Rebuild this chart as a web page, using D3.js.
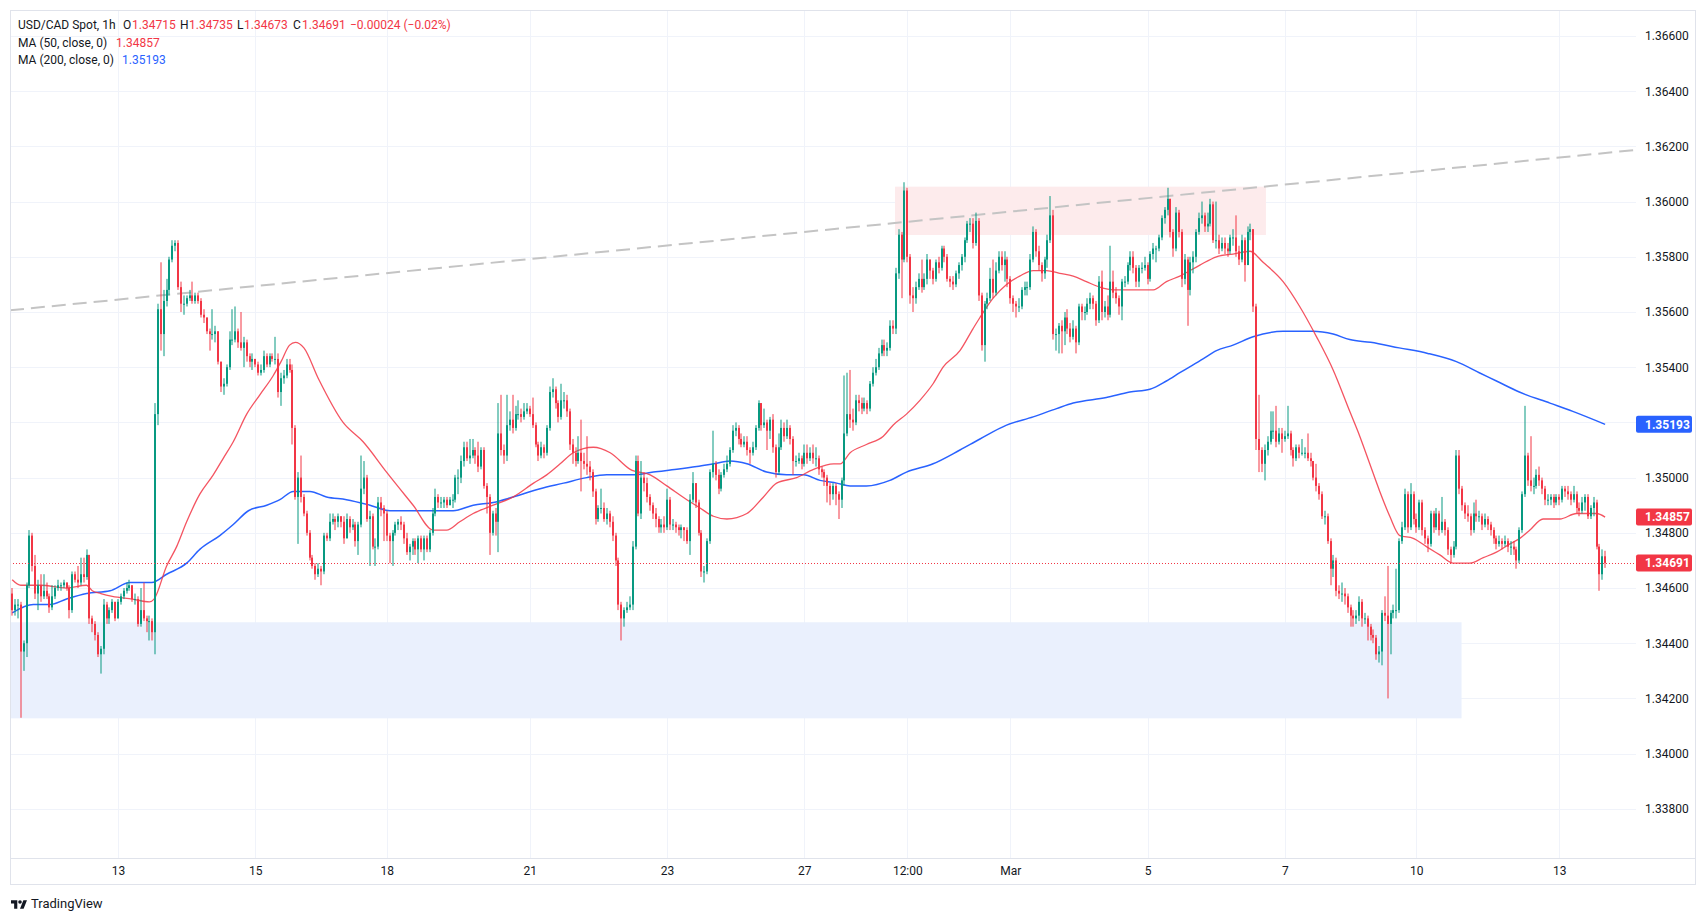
<!DOCTYPE html>
<html>
<head>
<meta charset="utf-8">
<script src="https://cdn.jsdelivr.net/npm/d3@7"></script>
<style>
  body { margin: 0; background: #fff; }
  svg text { font-family: Roboto, "Liberation Sans", sans-serif; }
</style>
</head>
<body>
<svg id="chart" width="1706" height="921"></svg>
<script>
// USD/CAD 1h candles (bar index 0 = Feb 12 ~11:00)
var firstOpen = 1.3458;
var closes = [
1.3452,1.3454,1.3454,1.3437,1.3440,1.3461,1.3479,1.3468,1.3458,1.3461,
1.3457,1.3459,1.3457,1.3453,1.3457,1.3460,1.3461,1.3461,1.3462,1.3460,
1.3452,1.3465,1.3463,1.3462,1.3465,1.3464,1.3472,1.3449,1.3447,1.3443,
1.3436,1.3438,1.3454,1.3449,1.3452,1.3455,1.3449,1.3455,1.3457,1.3459,
1.3460,1.3461,1.3456,1.3456,1.3447,1.3452,1.3449,1.3448,1.3448,1.3444,
1.3523,1.3561,1.3552,1.3564,1.3568,1.3579,1.3584,1.3585,1.3569,1.3563,
1.3563,1.3565,1.3566,1.3564,1.3566,1.3564,1.3559,1.3558,1.3553,1.3552,
1.3552,1.3553,1.3542,1.3533,1.3534,1.3540,1.3550,1.3550,1.3553,1.3549,
1.3547,1.3549,1.3544,1.3542,1.3543,1.3541,1.3538,1.3539,1.3544,1.3541,
1.3544,1.3543,1.3543,1.3531,1.3536,1.3537,1.3541,1.3539,1.3518,1.3493,
1.3500,1.3493,1.3487,1.3480,1.3471,1.3468,1.3465,1.3467,1.3466,1.3479,
1.3478,1.3484,1.3485,1.3484,1.3486,1.3484,1.3478,1.3485,1.3482,1.3483,
1.3477,1.3483,1.3496,1.3500,1.3485,1.3486,1.3475,1.3475,1.3491,1.3489,
1.3487,1.3479,1.3477,1.3480,1.3483,1.3484,1.3483,1.3478,1.3473,1.3475,
1.3477,1.3474,1.3478,1.3474,1.3478,1.3474,1.3480,1.3487,1.3493,1.3491,
1.3491,1.3492,1.3490,1.3492,1.3492,1.3500,1.3500,1.3506,1.3511,1.3507,
1.3508,1.3510,1.3508,1.3504,1.3510,1.3497,1.3493,1.3480,1.3487,1.3484,
1.3516,1.3510,1.3508,1.3519,1.3521,1.3518,1.3523,1.3523,1.3522,1.3524,
1.3525,1.3523,1.3519,1.3512,1.3508,1.3511,1.3509,1.3518,1.3531,1.3532,
1.3527,1.3522,1.3528,1.3528,1.3524,1.3512,1.3509,1.3506,1.3509,1.3506,
1.3505,1.3504,1.3502,1.3495,1.3485,1.3489,1.3489,1.3485,1.3487,1.3484,
1.3479,1.3470,1.3454,1.3449,1.3452,1.3453,1.3454,1.3475,1.3506,1.3487,
1.3500,1.3498,1.3493,1.3490,1.3487,1.3485,1.3482,1.3483,1.3482,1.3492,
1.3483,1.3483,1.3482,1.3481,1.3482,1.3481,1.3477,1.3492,1.3498,1.3491,
1.3480,1.3466,1.3466,1.3477,1.3502,1.3505,1.3501,1.3496,1.3501,1.3503,
1.3505,1.3510,1.3517,1.3518,1.3514,1.3512,1.3513,1.3510,1.3509,1.3511,
1.3518,1.3527,1.3519,1.3520,1.3517,1.3521,1.3511,1.3502,1.3511,1.3518,
1.3515,1.3518,1.3514,1.3506,1.3506,1.3507,1.3505,1.3509,1.3507,1.3509,
1.3507,1.3507,1.3503,1.3502,1.3500,1.3497,1.3494,1.3497,1.3494,1.3492,
1.3499,1.3516,1.3523,1.3521,1.3520,1.3528,1.3527,1.3525,1.3527,1.3525,
1.3534,1.3538,1.3540,1.3545,1.3548,1.3546,1.3547,1.3555,1.3554,1.3574,
1.3588,1.3579,1.3604,1.3580,1.3566,1.3565,1.3569,1.3572,1.3569,1.3572,
1.3579,1.3575,1.3572,1.3578,1.3576,1.3583,1.3580,1.3572,1.3571,1.3570,
1.3574,1.3577,1.3580,1.3586,1.3592,1.3592,1.3585,1.3593,1.3566,1.3548,
1.3563,1.3565,1.3572,1.3567,1.3575,1.3580,1.3577,1.3579,1.3572,1.3565,
1.3563,1.3562,1.3562,1.3568,1.3569,1.3569,1.3579,1.3589,1.3582,1.3577,
1.3574,1.3579,1.3586,1.3595,1.3552,1.3552,1.3555,1.3553,1.3558,1.3554,
1.3551,1.3554,1.3549,1.3562,1.3560,1.3560,1.3563,1.3565,1.3563,1.3557,
1.3571,1.3560,1.3562,1.3559,1.3571,1.3567,1.3565,1.3562,1.3571,1.3571,
1.3577,1.3580,1.3576,1.3571,1.3576,1.3576,1.3577,1.3572,1.3581,1.3583,
1.3583,1.3587,1.3594,1.3597,1.3601,1.3589,1.3583,1.3596,1.3589,1.3572,
1.3579,1.3568,1.3578,1.3580,1.3589,1.3594,1.3595,1.3591,1.3592,1.3599,
1.3586,1.3586,1.3583,1.3585,1.3583,1.3582,1.3587,1.3587,1.3582,1.3579,
1.3586,1.3577,1.3589,1.3590,1.3562,1.3514,1.3510,1.3505,1.3510,1.3513,
1.3517,1.3517,1.3513,1.3516,1.3514,1.3515,1.3516,1.3510,1.3507,1.3511,
1.3509,1.3509,1.3509,1.3507,1.3506,1.3500,1.3497,1.3494,1.3486,1.3486,
1.3477,1.3467,1.3470,1.3459,1.3458,1.3458,1.3457,1.3453,1.3450,1.3449,
1.3450,1.3455,1.3449,1.3449,1.3446,1.3443,1.3442,1.3436,1.3437,1.3451,
1.3450,1.3447,1.3451,1.3452,1.3452,1.3477,1.3482,1.3494,1.3482,1.3494,
1.3485,1.3482,1.3491,1.3481,1.3478,1.3476,1.3487,1.3482,1.3487,1.3481,
1.3484,1.3481,1.3474,1.3472,1.3475,1.3508,1.3496,1.3490,1.3487,1.3486,
1.3481,1.3487,1.3486,1.3486,1.3483,1.3485,1.3483,1.3481,1.3478,1.3476,
1.3477,1.3476,1.3477,1.3475,1.3475,1.3474,1.3470,1.3481,1.3494,1.3508,
1.3499,1.3497,1.3497,1.3501,1.3499,1.3496,1.3492,1.3492,1.3493,1.3491,
1.3493,1.3492,1.3496,1.3495,1.3494,1.3492,1.3494,1.3489,1.3488,1.3491,
1.3493,1.3486,1.3489,1.3491,1.3475,1.3465,1.34715,1.34691
];
var highs = [
1.3460,1.3456,1.3456,1.3455,1.3441,1.3462,1.3481,1.3480,1.3472,1.3463,
1.3465,1.3465,1.3462,1.3458,1.3461,1.3461,1.3463,1.3462,1.3463,1.3462,
1.3461,1.3466,1.3466,1.3468,1.3471,1.3471,1.3474,1.3472,1.3450,1.3448,
1.3444,1.3439,1.3456,1.3455,1.3453,1.3456,1.3455,1.3456,1.3458,1.3460,
1.3462,1.3463,1.3461,1.3458,1.3457,1.3460,1.3462,1.3450,1.3450,1.3449,
1.3527,1.3563,1.3578,1.3568,1.3572,1.3580,1.3586,1.3586,1.3586,1.3571,
1.3566,1.3566,1.3568,1.3571,1.3567,1.3567,1.3565,1.3561,1.3558,1.3554,
1.3561,1.3555,1.3553,1.3542,1.3536,1.3541,1.3553,1.3561,1.3562,1.3554,
1.3560,1.3551,1.3550,1.3545,1.3545,1.3543,1.3542,1.3541,1.3546,1.3545,
1.3545,1.3545,1.3551,1.3545,1.3538,1.3539,1.3543,1.3543,1.3541,1.3519,
1.3502,1.3508,1.3494,1.3488,1.3481,1.3472,1.3469,1.3469,1.3468,1.3480,
1.3480,1.3487,1.3487,1.3486,1.3487,1.3486,1.3486,1.3487,1.3486,1.3485,
1.3484,1.3484,1.3508,1.3506,1.3501,1.3488,1.3487,1.3478,1.3493,1.3493,
1.3490,1.3488,1.3480,1.3481,1.3484,1.3485,1.3486,1.3484,1.3480,1.3476,
1.3478,1.3478,1.3479,1.3479,1.3479,1.3479,1.3481,1.3489,1.3496,1.3494,
1.3493,1.3493,1.3493,1.3493,1.3494,1.3501,1.3503,1.3508,1.3513,1.3513,
1.3514,1.3514,1.3511,1.3513,1.3511,1.3511,1.3498,1.3494,1.3488,1.3489,
1.3527,1.3530,1.3512,1.3530,1.3524,1.3530,1.3526,1.3528,1.3525,1.3527,
1.3527,1.3526,1.3529,1.3520,1.3513,1.3513,1.3512,1.3519,1.3533,1.3536,
1.3533,1.3528,1.3534,1.3531,1.3530,1.3525,1.3514,1.3511,1.3515,1.3521,
1.3509,1.3515,1.3506,1.3503,1.3496,1.3490,1.3496,1.3491,1.3489,1.3488,
1.3486,1.3480,1.3471,1.3455,1.3453,1.3455,1.3457,1.3477,1.3508,1.3508,
1.3506,1.3502,1.3500,1.3494,1.3491,1.3489,1.3486,1.3485,1.3486,1.3496,
1.3493,1.3485,1.3484,1.3483,1.3483,1.3482,1.3482,1.3494,1.3502,1.3498,
1.3492,1.3481,1.3468,1.3478,1.3503,1.3517,1.3506,1.3503,1.3502,1.3505,
1.3508,1.3511,1.3519,1.3520,1.3519,1.3516,1.3515,1.3515,1.3511,1.3513,
1.3519,1.3528,1.3527,1.3525,1.3521,1.3522,1.3523,1.3512,1.3516,1.3521,
1.3520,1.3521,1.3519,1.3515,1.3508,1.3509,1.3508,1.3512,1.3512,1.3511,
1.3512,1.3511,1.3508,1.3504,1.3503,1.3501,1.3498,1.3498,1.3498,1.3495,
1.3500,1.3537,1.3538,1.3539,1.3525,1.3530,1.3530,1.3529,1.3529,1.3528,
1.3535,1.3540,1.3543,1.3547,1.3550,1.3550,1.3549,1.3557,1.3557,1.3576,
1.3590,1.3589,1.3607,1.3605,1.3581,1.3569,1.3571,1.3574,1.3579,1.3574,
1.3581,1.3579,1.3576,1.3579,1.3580,1.3584,1.3584,1.3581,1.3573,1.3573,
1.3575,1.3578,1.3581,1.3587,1.3593,1.3594,1.3594,1.3596,1.3594,1.3567,
1.3564,1.3567,1.3576,1.3579,1.3578,1.3582,1.3582,1.3582,1.3580,1.3573,
1.3566,1.3564,1.3565,1.3569,1.3571,1.3571,1.3581,1.3591,1.3590,1.3584,
1.3578,1.3580,1.3588,1.3602,1.3597,1.3554,1.3556,1.3557,1.3560,1.3561,
1.3556,1.3557,1.3555,1.3563,1.3563,1.3562,1.3565,1.3567,1.3566,1.3564,
1.3573,1.3575,1.3564,1.3566,1.3584,1.3575,1.3569,1.3566,1.3572,1.3573,
1.3578,1.3582,1.3582,1.3577,1.3577,1.3578,1.3580,1.3578,1.3582,1.3585,
1.3584,1.3588,1.3595,1.3598,1.3605,1.3601,1.3590,1.3598,1.3597,1.3590,
1.3581,1.3580,1.3580,1.3582,1.3590,1.3596,1.3600,1.3596,1.3596,1.3601,
1.3600,1.3600,1.3588,1.3587,1.3587,1.3585,1.3588,1.3590,1.3595,1.3584,
1.3588,1.3587,1.3591,1.3592,1.3590,1.3563,1.3530,1.3511,1.3512,1.3515,
1.3524,1.3524,1.3526,1.3518,1.3518,1.3517,1.3526,1.3517,1.3511,1.3512,
1.3512,1.3514,1.3511,1.3516,1.3509,1.3506,1.3505,1.3498,1.3495,1.3488,
1.3487,1.3478,1.3472,1.3471,1.3461,1.3462,1.3460,1.3458,1.3454,1.3452,
1.3452,1.3457,1.3456,1.3451,1.3450,1.3447,1.3445,1.3443,1.3439,1.3452,
1.3457,1.3468,1.3452,1.3454,1.3467,1.3478,1.3484,1.3496,1.3495,1.3498,
1.3495,1.3487,1.3492,1.3492,1.3482,1.3479,1.3488,1.3488,1.3489,1.3488,
1.3493,1.3485,1.3482,1.3475,1.3477,1.3510,1.3510,1.3497,1.3491,1.3490,
1.3487,1.3491,1.3492,1.3488,1.3487,1.3487,1.3486,1.3484,1.3482,1.3479,
1.3479,1.3478,1.3479,1.3478,1.3477,1.3477,1.3475,1.3482,1.3495,1.3526,
1.3509,1.3515,1.3500,1.3503,1.3504,1.3500,1.3497,1.3494,1.3494,1.3494,
1.3494,1.3494,1.3497,1.3497,1.3497,1.3495,1.3497,1.3495,1.3491,1.3493,
1.3494,1.3494,1.3490,1.3493,1.3492,1.3476,1.3474,1.34735
];
var lows = [
1.3450,1.3450,1.3449,1.3413,1.3430,1.3435,1.3460,1.3466,1.3456,1.3452,
1.3455,1.3456,1.3456,1.3451,1.3452,1.3456,1.3459,1.3459,1.3460,1.3459,
1.3449,1.3451,1.3462,1.3460,1.3461,1.3462,1.3463,1.3447,1.3444,1.3441,
1.3435,1.3429,1.3436,1.3447,1.3447,1.3451,1.3448,1.3449,1.3454,1.3456,
1.3458,1.3459,1.3455,1.3454,1.3446,1.3446,1.3448,1.3444,1.3441,1.3441,
1.3436,1.3519,1.3546,1.3544,1.3562,1.3566,1.3578,1.3582,1.3568,1.3560,
1.3559,1.3562,1.3564,1.3563,1.3563,1.3563,1.3558,1.3556,1.3552,1.3546,
1.3550,1.3549,1.3541,1.3531,1.3530,1.3533,1.3539,1.3548,1.3549,1.3547,
1.3546,1.3540,1.3542,1.3540,1.3539,1.3540,1.3537,1.3537,1.3538,1.3540,
1.3540,1.3542,1.3541,1.3529,1.3526,1.3534,1.3536,1.3538,1.3512,1.3492,
1.3476,1.3491,1.3486,1.3479,1.3470,1.3467,1.3463,1.3464,1.3461,1.3465,
1.3477,1.3477,1.3483,1.3481,1.3482,1.3482,1.3476,1.3478,1.3480,1.3481,
1.3475,1.3472,1.3482,1.3494,1.3484,1.3468,1.3474,1.3468,1.3474,1.3486,
1.3477,1.3477,1.3469,1.3468,1.3479,1.3481,1.3481,1.3476,1.3472,1.3470,
1.3472,1.3472,1.3469,1.3473,1.3470,1.3473,1.3473,1.3479,1.3486,1.3489,
1.3489,1.3489,1.3489,1.3490,1.3489,1.3491,1.3494,1.3498,1.3504,1.3506,
1.3505,1.3507,1.3505,1.3502,1.3503,1.3496,1.3487,1.3472,1.3479,1.3479,
1.3473,1.3508,1.3505,1.3506,1.3517,1.3516,1.3517,1.3521,1.3520,1.3521,
1.3523,1.3522,1.3518,1.3511,1.3506,1.3507,1.3507,1.3508,1.3517,1.3529,
1.3525,1.3520,1.3521,1.3525,1.3522,1.3510,1.3505,1.3504,1.3505,1.3495,
1.3503,1.3501,1.3499,1.3493,1.3483,1.3484,1.3487,1.3484,1.3483,1.3482,
1.3477,1.3468,1.3452,1.3441,1.3446,1.3451,1.3452,1.3452,1.3474,1.3486,
1.3485,1.3495,1.3491,1.3488,1.3485,1.3482,1.3480,1.3480,1.3480,1.3481,
1.3481,1.3481,1.3480,1.3479,1.3478,1.3477,1.3476,1.3472,1.3491,1.3489,
1.3479,1.3464,1.3462,1.3465,1.3476,1.3500,1.3499,1.3494,1.3495,1.3500,
1.3502,1.3504,1.3509,1.3515,1.3512,1.3511,1.3511,1.3508,1.3505,1.3508,
1.3510,1.3517,1.3517,1.3518,1.3510,1.3514,1.3509,1.3500,1.3501,1.3510,
1.3513,1.3514,1.3512,1.3501,1.3504,1.3505,1.3503,1.3504,1.3505,1.3506,
1.3505,1.3504,1.3501,1.3500,1.3497,1.3491,1.3490,1.3492,1.3490,1.3485,
1.3489,1.3497,1.3515,1.3518,1.3517,1.3519,1.3524,1.3523,1.3524,1.3523,
1.3524,1.3533,1.3537,1.3539,1.3544,1.3544,1.3544,1.3546,1.3552,1.3552,
1.3572,1.3565,1.3578,1.3578,1.3563,1.3560,1.3563,1.3568,1.3567,1.3568,
1.3570,1.3572,1.3570,1.3571,1.3574,1.3575,1.3578,1.3571,1.3569,1.3568,
1.3569,1.3572,1.3575,1.3578,1.3585,1.3589,1.3583,1.3584,1.3564,1.3546,
1.3542,1.3561,1.3564,1.3565,1.3566,1.3574,1.3575,1.3571,1.3569,1.3563,
1.3560,1.3558,1.3560,1.3561,1.3566,1.3566,1.3568,1.3578,1.3580,1.3575,
1.3571,1.3572,1.3576,1.3585,1.3550,1.3546,1.3545,1.3545,1.3548,1.3552,
1.3549,1.3550,1.3545,1.3548,1.3557,1.3557,1.3559,1.3561,1.3561,1.3555,
1.3556,1.3557,1.3558,1.3557,1.3558,1.3565,1.3563,1.3559,1.3557,1.3569,
1.3570,1.3575,1.3574,1.3569,1.3569,1.3574,1.3575,1.3570,1.3571,1.3579,
1.3578,1.3582,1.3586,1.3592,1.3595,1.3587,1.3580,1.3582,1.3587,1.3569,
1.3570,1.3555,1.3566,1.3574,1.3578,1.3588,1.3592,1.3589,1.3589,1.3591,
1.3585,1.3583,1.3581,1.3582,1.3581,1.3580,1.3581,1.3584,1.3580,1.3577,
1.3578,1.3571,1.3577,1.3586,1.3560,1.3510,1.3502,1.3502,1.3499,1.3508,
1.3512,1.3514,1.3511,1.3512,1.3509,1.3513,1.3514,1.3508,1.3504,1.3506,
1.3507,1.3508,1.3507,1.3506,1.3504,1.3499,1.3495,1.3492,1.3485,1.3483,
1.3476,1.3461,1.3464,1.3457,1.3456,1.3455,1.3454,1.3451,1.3446,1.3446,
1.3447,1.3448,1.3446,1.3447,1.3441,1.3441,1.3440,1.3434,1.3433,1.3432,
1.3448,1.3420,1.3436,1.3449,1.3449,1.3451,1.3476,1.3481,1.3480,1.3481,
1.3483,1.3480,1.3481,1.3479,1.3476,1.3473,1.3475,1.3480,1.3481,1.3479,
1.3480,1.3479,1.3472,1.3469,1.3471,1.3474,1.3494,1.3488,1.3485,1.3484,
1.3479,1.3480,1.3484,1.3484,1.3481,1.3482,1.3481,1.3479,1.3476,1.3474,
1.3475,1.3474,1.3475,1.3473,1.3472,1.3472,1.3467,1.3469,1.3480,1.3493,
1.3497,1.3495,1.3494,1.3496,1.3497,1.3494,1.3490,1.3490,1.3490,1.3489,
1.3490,1.3490,1.3491,1.3493,1.3492,1.3490,1.3491,1.3487,1.3486,1.3487,
1.3488,1.3485,1.3485,1.3486,1.3474,1.3459,1.3463,1.34673
];

// moving averages: [bar, value]
var ma50 = [
[0,1.3463],[3,1.3461],[10,1.3461],[19,1.3460],[26,1.3461],[28,1.3459],[31,1.3458],[35,1.3457],
[42,1.3456],[48,1.3455],[49.6,1.3456],[54,1.3468],[57.5,1.3475],[61,1.3484],[65.6,1.3494],
[70.3,1.3501],[73.8,1.3507],[77.3,1.3513],[82,1.3523],[86.6,1.3530],[91.3,1.3537],[94,1.3542],
[97,1.3548],[99,1.3549],[102,1.3547],[107,1.3536],[115.7,1.3520],[122.7,1.3513],[130.9,1.3502],
[140.2,1.3490],[147.2,1.3481],[151.9,1.3481],[156.5,1.3484],[161.2,1.3487],[168.2,1.3490],
[175.2,1.3493],[182.3,1.3498],[186.9,1.3501],[191.6,1.3505],[196.2,1.3509],[203.2,1.3511],
[209.1,1.3509],[216.1,1.3503],[223.1,1.3501],[228.9,1.3497],[235.9,1.3492],[240.5,1.3489],
[245.2,1.3486],[249.9,1.3485],[256.9,1.3487],[262.7,1.3493],[267.3,1.3498],[274.3,1.3500],
[280.2,1.3503],[287.2,1.3505],[289.5,1.3505],[293,1.3509],[298.7,1.3512],[304.6,1.3515],
[308,1.3519],[312.7,1.3523],[317.4,1.3528],[322,1.3534],[325.5,1.3540],[331.4,1.3546],
[336,1.3554],[338.4,1.3558],[343,1.3565],[347.7,1.3570],[352.3,1.3573],[357,1.3575],
[361.7,1.3575],[366.3,1.3574],[371,1.3573],[375.6,1.3571],[380.3,1.3569],[385,1.3568],
[394.3,1.3568],[399,1.3568],[403.6,1.3571],[408.3,1.3573],[415.3,1.3577],[421.1,1.3580],
[426.9,1.3581],[432.8,1.3582],[437.4,1.3578],[444.4,1.3571],[450.2,1.3562],[456.1,1.3551],
[461.9,1.3539],[467.7,1.3524],[471.2,1.3515],[474.7,1.3505],[478.2,1.3495],[481.7,1.3486],
[485.2,1.3479],[489.9,1.3478],[494.5,1.3475],[499.2,1.3472],[503.9,1.3469],[509.7,1.3469],
[514.4,1.3471],[519,1.3473],[523.7,1.3476],[527.2,1.3478],[530.7,1.3481],[535.3,1.3485],
[541.2,1.3485],[547,1.3487],[554,1.3487],[557,1.34857]
];
var ma200 = [
[0,1.3451],[7.4,1.3454],[13.2,1.3454],[19,1.3456],[26,1.3458],[34.2,1.3459],[41.2,1.3462],
[48.8,1.3462],[54,1.3465],[61,1.3469],[65.6,1.3474],[72.6,1.3479],[77.3,1.3483],[82.6,1.3488],
[89,1.3490],[93.6,1.3492],[98.3,1.3495],[104.1,1.3495],[109.9,1.3493],[116.9,1.3492],
[125.1,1.3490],[132.1,1.3488],[141.4,1.3488],[154.2,1.3488],[161.2,1.3490],[168.2,1.3491],
[175.2,1.3493],[184.6,1.3496],[192.8,1.3498],[200.9,1.3500],[207.9,1.3501],[217.2,1.3501],
[224.2,1.3502],[232.4,1.3503],[239.4,1.3504],[245.2,1.3505],[251,1.3506],[256.9,1.3505],
[263.8,1.3502],[270.8,1.3501],[276.7,1.3501],[282.5,1.3499],[288.3,1.3498],[293,1.3497],
[298.7,1.3497],[306.9,1.3499],[312.7,1.3502],[322,1.3505],[331.4,1.3510],[338.4,1.3514],
[347.7,1.3519],[357,1.3522],[365.2,1.3525],[371,1.3527],[382.6,1.3529],[390.8,1.3531],
[397.8,1.3532],[403.6,1.3535],[408.3,1.3538],[416.4,1.3543],[421.1,1.3546],[426.9,1.3548],
[433.9,1.3551],[444.4,1.3553],[454.9,1.3553],[461.9,1.3552],[467.7,1.3550],[475,1.3549],
[485,1.3547],[495,1.3545],[505,1.3542],[513,1.3538],[519,1.3535],[527,1.3531],[537.7,1.3527],
[545.7,1.3524],[557,1.35193]
];

// drawings
var resistanceZone = { from: 308.7, to: 438.4, top: 1.36054, bottom: 1.35879 };
var supportZone = { from: -2, to: 506.8, top: 1.34476, bottom: 1.34128 };
var trendBars = [0, 557];
var trendPrices = [1.35607, 1.36176];

// axes
var priceTicks = [1.338, 1.340, 1.342, 1.344, 1.346, 1.348, 1.350, 1.352, 1.354, 1.356, 1.358, 1.360, 1.362, 1.364, 1.366];
var timeTickBars = [37, 85, 131, 181, 229, 277, 313, 349, 397, 445, 491, 541];
var timeTickLabels = ["13", "15", "18", "21", "23", "27", "12:00", "Mar", "5", "7", "10", "13"];

var GREEN = "#089981", RED = "#F23645", BLUE = "#2962FF", TEXT = "#131722";
var GRID = "#f0f3fa", BORDER = "#e0e3eb";

var svg = d3.select("#chart");
var plot = { left: 10, right: 1636, top: 10, bottom: 858 };

var x = d3.scaleLinear().domain([-0.77, 567.8]).range([plot.left, plot.right]);
var y = d3.scaleLinear().domain([1.33622, 1.36694]).range([plot.bottom, plot.top]);

svg.append("defs").append("clipPath").attr("id", "plotclip")
  .append("rect")
  .attr("x", plot.left).attr("y", plot.top)
  .attr("width", plot.right - plot.left).attr("height", plot.bottom - plot.top);

// grid
var grid = svg.append("g");
grid.selectAll("line.h").data(priceTicks).enter().append("line")
  .attr("x1", plot.left).attr("x2", plot.right)
  .attr("y1", function(d) { return Math.round(y(d)) + 0.5; })
  .attr("y2", function(d) { return Math.round(y(d)) + 0.5; })
  .attr("stroke", GRID);
grid.selectAll("line.v").data(timeTickBars).enter().append("line")
  .attr("y1", plot.top).attr("y2", plot.bottom)
  .attr("x1", function(d) { return Math.round(x(d)) + 0.5; })
  .attr("x2", function(d) { return Math.round(x(d)) + 0.5; })
  .attr("stroke", GRID);

var g = svg.append("g").attr("clip-path", "url(#plotclip)");

// zones
function zone(z, fill) {
  g.append("rect")
    .attr("x", x(z.from)).attr("width", x(z.to) - x(z.from))
    .attr("y", y(z.top)).attr("height", y(z.bottom) - y(z.top))
    .attr("fill", fill);
}
zone(supportZone, "#eaf0fd");
zone(resistanceZone, "#fdebec");

// trend line, extended across the pane
var slope = (trendPrices[1] - trendPrices[0]) / (trendBars[1] - trendBars[0]);
var d0 = x.domain()[0], d1 = x.domain()[1];
g.append("line")
  .attr("x1", x(d0)).attr("y1", y(trendPrices[0] + (d0 - trendBars[0]) * slope))
  .attr("x2", x(d1)).attr("y2", y(trendPrices[0] + (d1 - trendBars[0]) * slope))
  .attr("stroke", "#c4c4c4").attr("stroke-width", 2).attr("stroke-dasharray", "14,7");

// moving averages
var line = d3.line().x(function(d) { return x(d[0]); }).y(function(d) { return y(d[1]); }).curve(d3.curveMonotoneX);
g.append("path").datum(ma200).attr("d", line).attr("fill", "none").attr("stroke", BLUE).attr("stroke-width", 1.5);
g.append("path").datum(ma50).attr("d", line).attr("fill", "none").attr("stroke", RED).attr("stroke-opacity", 0.85).attr("stroke-width", 1.3);

// candles
var bars = closes.map(function(c, i) {
  return { i: i, o: i ? closes[i - 1] : firstOpen, h: highs[i], l: lows[i], c: c };
});
var candle = g.append("g").selectAll("g").data(bars).enter().append("g");
candle.append("line")
  .attr("x1", function(d) { return Math.round(x(d.i)); })
  .attr("x2", function(d) { return Math.round(x(d.i)); })
  .attr("y1", function(d) { return y(Math.max(d.h, d.o, d.c)); })
  .attr("y2", function(d) { return y(Math.min(d.l, d.o, d.c)); })
  .attr("stroke", function(d) { return d.c >= d.o ? GREEN : RED; })
  .attr("stroke-width", 1);
candle.append("rect")
  .attr("x", function(d) { return Math.round(x(d.i)) - 1; })
  .attr("width", 2)
  .attr("y", function(d) { return y(Math.max(d.o, d.c)); })
  .attr("height", function(d) { return Math.max(1, Math.abs(y(d.o) - y(d.c))); })
  .attr("fill", function(d) { return d.c >= d.o ? GREEN : RED; });

// last price dotted line
var last = bars[bars.length - 1];
g.append("line")
  .attr("x1", plot.left).attr("x2", plot.right)
  .attr("y1", Math.round(y(last.c)) + 0.5).attr("y2", Math.round(y(last.c)) + 0.5)
  .attr("stroke", RED).attr("stroke-width", 1).attr("stroke-dasharray", "1,2");

// frame
svg.append("rect").attr("x", 10.5).attr("y", 10.5).attr("width", 1685).attr("height", 874)
  .attr("fill", "none").attr("stroke", BORDER);
svg.append("line").attr("x1", 10).attr("x2", 1696).attr("y1", plot.bottom + 0.5).attr("y2", plot.bottom + 0.5)
  .attr("stroke", BORDER);

// price axis
var yAxis = d3.axisRight(y).tickValues(priceTicks).tickFormat(d3.format(".5f")).tickSize(0).tickPadding(9);
var ya = svg.append("g").attr("transform", "translate(" + plot.right + ",0)").call(yAxis);
ya.select(".domain").remove();
ya.selectAll("text").attr("fill", TEXT).style("font-size", "12px");

// time axis
var xAxis = d3.axisBottom(x).tickValues(timeTickBars)
  .tickFormat(function(d, i) { return timeTickLabels[i]; }).tickSize(0).tickPadding(8);
var xa = svg.append("g").attr("transform", "translate(0," + plot.bottom + ")").call(xAxis);
xa.select(".domain").remove();
xa.selectAll("text").attr("fill", TEXT).style("font-size", "12px");

// price labels on the scale
var ma50Last = ma50[ma50.length - 1][1], ma200Last = ma200[ma200.length - 1][1];
var fmt = d3.format(".5f");
[{ v: ma200Last, c: BLUE }, { v: ma50Last, c: RED }, { v: last.c, c: RED }].forEach(function(p) {
  var yy = y(p.v);
  svg.append("rect").attr("x", plot.right).attr("y", yy - 8.5).attr("width", 56).attr("height", 17)
    .attr("rx", 2).attr("fill", p.c);
  svg.append("text").attr("x", plot.right + 9).attr("y", yy).attr("dy", "0.35em")
    .attr("fill", "#fff").style("font-size", "12px").style("font-weight", "bold").text(fmt(p.v));
});

// legend
var legend = svg.append("g").style("font-size", "12px");
function seg(xp, yp, txt, col) {
  legend.append("text").attr("x", xp).attr("y", yp).attr("fill", col).text(txt);
}
var chg = last.c - last.o;
var pct = chg / last.o * 100;
seg(18, 29, "USD/CAD Spot, 1h", TEXT);
seg(123, 29, "O", TEXT); seg(132, 29, fmt(last.o), RED);
seg(180, 29, "H", TEXT); seg(189, 29, fmt(last.h), RED);
seg(237, 29, "L", TEXT); seg(244, 29, fmt(last.l), RED);
seg(293, 29, "C", TEXT); seg(302, 29, fmt(last.c), RED);
seg(350, 29, fmt(chg) + " (" + d3.format(".2f")(pct) + "%)", RED);
seg(18, 47, "MA (50, close, 0)", TEXT); seg(116, 47, fmt(ma50Last), RED);
seg(18, 64, "MA (200, close, 0)", TEXT); seg(122, 64, fmt(ma200Last), BLUE);

// TradingView mark
var logo = svg.append("g").attr("transform", "translate(11,898) scale(0.45)");
logo.append("path").attr("d", "M14 24H7V12H0V5h14v19zM28 24h-8l7.5-19h8L28 24z").attr("fill", TEXT);
logo.append("circle").attr("cx", 20).attr("cy", 9).attr("r", 4).attr("fill", TEXT);
svg.append("text").attr("x", 31).attr("y", 908).attr("fill", TEXT).style("font-size", "13px").text("TradingView");
</script>
</body>
</html>
